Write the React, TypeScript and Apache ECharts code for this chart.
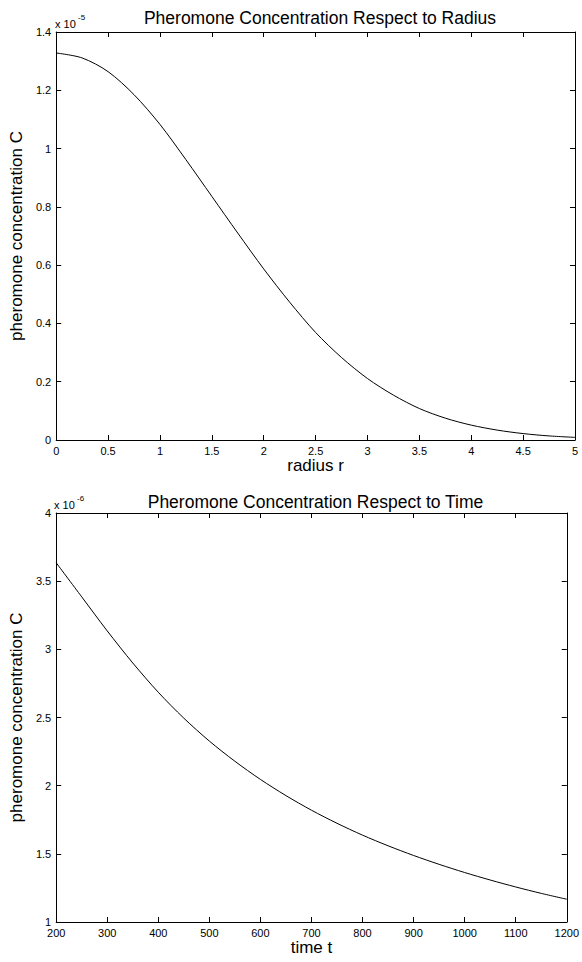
import React, { useEffect, useRef } from "react";
import * as echarts from "echarts";

// Top chart: concentration vs radius (values in units of 1e-5)
const radiusR = [0, 0.25, 0.5, 0.75, 1, 1.25, 1.5, 1.75, 2, 2.25, 2.5, 2.75, 3, 3.25, 3.5, 3.75, 4, 4.25, 4.5, 4.75, 5];
const concRadius = [1.328, 1.311, 1.264, 1.185, 1.083, 0.962, 0.836, 0.71, 0.587, 0.473, 0.369, 0.283, 0.211, 0.154, 0.108, 0.075, 0.051, 0.034, 0.022, 0.014, 0.009];

// Bottom chart: concentration vs time (values in units of 1e-6)
const timeT = [200, 250, 300, 350, 400, 450, 500, 550, 600, 650, 700, 750, 800, 850, 900, 950, 1000, 1050, 1100, 1150, 1200];
const concTime = [3.635, 3.385, 3.135, 2.9, 2.685, 2.495, 2.327, 2.179, 2.046, 1.927, 1.82, 1.724, 1.637, 1.559, 1.488, 1.423, 1.363, 1.308, 1.257, 1.21, 1.167];

const radiusTitle = "Pheromone Concentration Respect to Radius";
const timeTitle = "Pheromone Concentration Respect to Time";
const yName = "pheromone concentration C";
const radiusXName = "radius r";
const timeXName = "time t";
const radiusExp = "-5";
const timeExp = "-6";

const FONT = "'Liberation Sans', Arial, Helvetica, sans-serif";

function axisBase(showLabel: boolean) {
  return {
    axisLine: { show: true, onZero: false, lineStyle: { color: "#000", width: 1 } },
    axisTick: { show: true, inside: true, length: 5, lineStyle: { color: "#000", width: 1 } },
    axisLabel: {
      show: showLabel,
      color: "#000",
      fontSize: 11,
      fontFamily: FONT,
      margin: 5,
      formatter: (v: number) => String(Math.round(v * 1000) / 1000),
    },
    splitLine: { show: false },
  };
}

export default function App() {
  const ref = useRef<HTMLDivElement>(null);
  useEffect(() => {
    if (!ref.current) return;
    const chart = echarts.init(ref.current, undefined, { renderer: "svg" });
    const g0 = { left: 55, top: 32, width: 520, height: 408 };
    const g1 = { left: 54, top: 513, width: 513, height: 409 };
    const option: any = {
      animation: false,
      backgroundColor: "#fff",
      title: [
        {
          text: radiusTitle,
          left: g0.left + g0.width / 2,
          top: 4,
          textAlign: "center",
          textStyle: { fontSize: 17.5, fontWeight: "normal", color: "#000", fontFamily: FONT },
        },
        {
          text: timeTitle,
          left: g1.left + g1.width / 2,
          top: 488,
          textAlign: "center",
          textStyle: { fontSize: 17.5, fontWeight: "normal", color: "#000", fontFamily: FONT },
        },
      ],
      grid: [
        { ...g0, show: false },
        { ...g1, show: false },
      ],
      xAxis: [
        {
          ...axisBase(true),
          type: "value",
          gridIndex: 0,
          position: "bottom",
          min: 0,
          max: 5,
          interval: 0.5,
          name: radiusXName,
          nameLocation: "middle",
          nameGap: 10,
          nameTextStyle: { fontSize: 17, color: "#000", fontFamily: FONT, verticalAlign: "top" },
        },
        { ...axisBase(false), type: "value", gridIndex: 0, position: "top", min: 0, max: 5, interval: 0.5 },
        {
          ...axisBase(true),
          type: "value",
          gridIndex: 1,
          position: "bottom",
          min: 200,
          max: 1200,
          interval: 100,
          name: timeXName,
          nameLocation: "middle",
          nameGap: 11,
          nameTextStyle: { fontSize: 17, color: "#000", fontFamily: FONT, verticalAlign: "top" },
        },
        { ...axisBase(false), type: "value", gridIndex: 1, position: "top", min: 200, max: 1200, interval: 100 },
      ],
      yAxis: [
        {
          ...axisBase(true),
          type: "value",
          gridIndex: 0,
          position: "left",
          min: 0,
          max: 1.4,
          interval: 0.2,
          name: yName,
          nameLocation: "middle",
          nameGap: 22,
          nameRotate: 90,
          nameTextStyle: { fontSize: 17, color: "#000", fontFamily: FONT },
        },
        { ...axisBase(false), type: "value", gridIndex: 0, position: "right", min: 0, max: 1.4, interval: 0.2 },
        {
          ...axisBase(true),
          type: "value",
          gridIndex: 1,
          position: "left",
          min: 1,
          max: 4,
          interval: 0.5,
          name: yName,
          nameLocation: "middle",
          nameGap: 22,
          nameRotate: 90,
          nameTextStyle: { fontSize: 17, color: "#000", fontFamily: FONT },
        },
        { ...axisBase(false), type: "value", gridIndex: 1, position: "right", min: 1, max: 4, interval: 0.5 },
      ],
      series: [
        {
          type: "line",
          xAxisIndex: 0,
          yAxisIndex: 0,
          data: radiusR.map((r, i) => [r, concRadius[i]]),
          showSymbol: false,
          smooth: 0.3,
          lineStyle: { color: "#000", width: 1 },
        },
        {
          type: "line",
          xAxisIndex: 2,
          yAxisIndex: 2,
          data: timeT.map((t, i) => [t, concTime[i]]),
          showSymbol: false,
          smooth: 0.3,
          lineStyle: { color: "#000", width: 1 },
        },
      ],
      graphic: [
        { type: "text", left: 55, top: 18, style: { text: "x 10", fontSize: 11, fill: "#000", fontFamily: FONT } },
        { type: "text", left: 78, top: 13, style: { text: radiusExp, fontSize: 8, fill: "#000", fontFamily: FONT } },
        { type: "text", left: 54, top: 499, style: { text: "x 10", fontSize: 11, fill: "#000", fontFamily: FONT } },
        { type: "text", left: 77, top: 494, style: { text: timeExp, fontSize: 8, fill: "#000", fontFamily: FONT } },
      ],
    };
    chart.setOption(option);
    return () => chart.dispose();
  }, []);
  return (
    <div
      ref={ref}
      style={{ position: "absolute", left: 0, top: 0, width: 582, height: 962, background: "#fff" }}
    />
  );
}
